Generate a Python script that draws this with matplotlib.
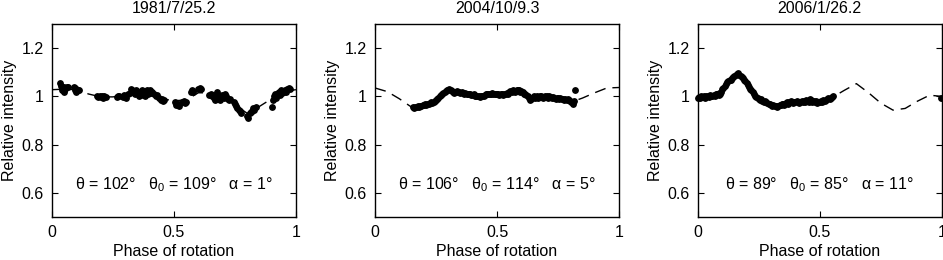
import matplotlib
matplotlib.use("Agg")
import matplotlib.pyplot as plt

plt.rcParams['font.family'] = ['Liberation Sans', 'DejaVu Sans']
plt.rcParams['mathtext.fontset'] = 'custom'
plt.rcParams['mathtext.rm'] = 'Liberation Sans'
plt.rcParams['mathtext.it'] = 'Liberation Sans'
plt.rcParams['font.size'] = 11.5

# ---------------- data ----------------
titles = ["1981/7/25.2", "2004/10/9.3", "2006/1/26.2"]
labels = ["θ = 102°   θ$_0$ = 109°   α = 1°",
          "θ = 106°   θ$_0$ = 114°   α = 5°",
          "θ = 89°   θ$_0$ = 85°   α = 11°"]

model_phase = [0.0, 0.05, 0.1, 0.15, 0.2, 0.25, 0.3, 0.35, 0.4, 0.45, 0.5,
               0.55, 0.6, 0.65, 0.7, 0.75, 0.8, 0.85, 0.9, 0.95, 1.0]
model1 = [1.028, 1.03, 1.028, 1.01, 0.998, 0.998, 1.005, 1.015, 1.01, 0.99, 0.982,
          0.985, 1.015, 1.015, 1.0, 0.965, 0.93, 0.958, 0.99, 1.02, 1.028]
model2 = [1.035, 1.02, 0.99, 0.955, 0.962, 0.985, 1.025, 1.018, 1.005, 1.005, 1.01,
          1.018, 1.02, 0.995, 0.998, 0.992, 0.975, 0.993, 1.015, 1.035, 1.037]
model3 = [0.997, 1.003, 1.03, 1.085, 1.055, 0.99, 0.965, 0.968, 0.975, 0.98, 0.978,
          0.995, 1.025, 1.053, 1.015, 0.972, 0.943, 0.95, 0.98, 1.005, 1.0]

obs1_phase = [0.035, 0.038, 0.042, 0.045, 0.05, 0.055, 0.06, 0.065, 0.048,
              0.09, 0.095, 0.1, 0.105, 0.11, 0.1, 0.095,
              0.185, 0.19, 0.195, 0.2, 0.205, 0.21, 0.215, 0.22,
              0.265, 0.27, 0.275, 0.29, 0.295, 0.3, 0.31, 0.305,
              0.32, 0.325, 0.33, 0.335, 0.34, 0.345, 0.35, 0.355, 0.36, 0.365,
              0.37, 0.375, 0.38, 0.385, 0.39, 0.395, 0.4, 0.405, 0.41,
              0.42, 0.425, 0.43, 0.44, 0.445, 0.45, 0.455, 0.46,
              0.505, 0.51, 0.515, 0.52, 0.535, 0.54, 0.545, 0.55,
              0.57, 0.575, 0.58, 0.6, 0.605, 0.61,
              0.645, 0.65, 0.655, 0.66, 0.665, 0.67, 0.675, 0.68, 0.685, 0.69,
              0.695, 0.7, 0.705, 0.71, 0.715, 0.72, 0.725, 0.73,
              0.745, 0.75, 0.755, 0.76, 0.765, 0.77, 0.775,
              0.8, 0.805, 0.81, 0.815, 0.82, 0.825, 0.83, 0.835,
              0.9, 0.905, 0.91, 0.915, 0.92, 0.925, 0.93, 0.935, 0.94, 0.945,
              0.95, 0.955, 0.96, 0.965, 0.97, 0.975]
obs1_val = [1.055, 1.045, 1.025, 1.035, 1.04, 1.03, 1.038, 1.04, 1.02,
            1.04, 1.035, 1.03, 1.028, 1.025, 1.02, 1.025,
            1.0, 0.998, 1.002, 0.997, 1.0, 0.995, 1.0, 0.998,
            0.998, 1.003, 1.0, 0.998, 1.005, 1.0, 1.01, 0.995,
            1.015, 1.03, 1.025, 1.02, 1.01, 1.028, 1.015, 1.0, 1.02, 1.005,
            1.025, 1.015, 1.0, 1.02, 1.028, 1.01, 1.025, 1.015, 1.02,
            1.01, 1.0, 1.005, 0.995, 0.985, 0.99, 0.98, 0.985,
            0.975, 0.965, 0.97, 0.96, 0.975, 0.98, 0.972, 0.975,
            1.02, 1.025, 1.02, 1.03, 1.035, 1.03,
            1.005, 1.01, 1.0, 1.005, 0.995, 0.985, 1.02, 1.0, 0.99, 0.985,
            1.005, 1.0, 0.995, 1.008, 1.0, 0.99, 0.985, 0.988,
            0.975, 0.97, 0.96, 0.95, 0.945, 0.94, 0.93,
            0.92, 0.91, 0.93, 0.935, 0.94, 0.95, 0.945, 0.955,
            0.955, 0.985, 1.0, 1.01, 0.995, 1.015, 1.02, 1.005, 1.025, 1.015,
            1.02, 1.025, 1.02, 1.03, 1.035, 1.03]

obs2_phase = [0.155, 0.16, 0.165, 0.17, 0.175, 0.18, 0.185, 0.19, 0.195, 0.2,
              0.205, 0.21, 0.215, 0.22, 0.225, 0.23, 0.235, 0.24, 0.245, 0.25,
              0.255, 0.26, 0.265, 0.27, 0.275, 0.28, 0.285, 0.29, 0.295, 0.3,
              0.305, 0.31, 0.315, 0.32, 0.325, 0.33, 0.335, 0.34, 0.345, 0.35,
              0.355, 0.36, 0.365, 0.37, 0.375, 0.38, 0.385, 0.39, 0.395, 0.4,
              0.405, 0.41, 0.415, 0.42, 0.425, 0.43, 0.435, 0.44, 0.445, 0.45,
              0.455, 0.46, 0.465, 0.47, 0.475, 0.48, 0.485, 0.49, 0.495, 0.5,
              0.505, 0.51, 0.515, 0.52, 0.525, 0.53, 0.535, 0.54, 0.545, 0.55,
              0.555, 0.56, 0.565, 0.57, 0.575, 0.58, 0.585, 0.59, 0.595, 0.6,
              0.605, 0.61, 0.615, 0.62, 0.625, 0.63, 0.635, 0.64, 0.645, 0.65,
              0.655, 0.66, 0.665, 0.67, 0.675, 0.68, 0.685, 0.69, 0.695, 0.7,
              0.705, 0.71, 0.715, 0.72, 0.725, 0.73, 0.735, 0.74, 0.745, 0.75,
              0.755, 0.76, 0.765, 0.77, 0.775, 0.78, 0.785, 0.79, 0.795, 0.8,
              0.805, 0.81, 0.815, 0.818]
obs2_val = [0.955, 0.952, 0.958, 0.955, 0.96, 0.958, 0.962, 0.96, 0.965, 0.963,
            0.968, 0.966, 0.97, 0.968, 0.972, 0.975, 0.973, 0.978, 0.982, 0.985,
            0.99, 0.995, 1.0, 1.005, 1.01, 1.015, 1.02, 1.022, 1.025, 1.028,
            1.03, 1.027, 1.022, 1.02, 1.015, 1.018, 1.022, 1.02, 1.018, 1.016,
            1.02, 1.015, 1.012, 1.015, 1.01, 1.012, 1.008, 1.01, 1.005, 1.005,
            1.008, 1.003, 1.0, 1.002, 1.0, 0.998, 1.0, 1.003, 1.0, 1.005,
            1.008, 1.01, 1.008, 1.012, 1.01, 1.015, 1.012, 1.01, 1.008, 1.012,
            1.01, 1.005, 1.008, 1.01, 1.006, 1.01, 1.012, 1.015, 1.012, 1.018,
            1.022, 1.02, 1.025, 1.022, 1.02, 1.025, 1.028, 1.025, 1.02, 1.022,
            1.018, 1.012, 1.01, 1.005, 1.0, 0.992, 0.985, 0.99, 0.995, 1.0,
            0.995, 0.998, 1.0, 0.995, 1.0, 1.002, 0.998, 0.995, 1.0, 0.998,
            1.0, 0.995, 1.0, 0.997, 0.993, 0.998, 0.995, 0.99, 0.995, 0.992,
            0.99, 0.995, 0.99, 0.988, 0.985, 0.99, 0.985, 0.988, 0.983, 0.98,
            0.975, 0.97, 0.98, 1.025]

obs3_phase = [0.0, 0.005, 0.01, 0.015, 0.02, 0.025, 0.03, 0.035, 0.04, 0.045,
              0.05, 0.055, 0.06, 0.065, 0.07, 0.075, 0.08, 0.085, 0.09, 0.095,
              0.1, 0.105, 0.11, 0.115, 0.12, 0.125, 0.13, 0.135, 0.14, 0.145,
              0.15, 0.155, 0.16, 0.165, 0.17, 0.175, 0.18, 0.185, 0.19, 0.195,
              0.2, 0.205, 0.21, 0.215, 0.22, 0.225, 0.23, 0.235, 0.24, 0.245,
              0.25, 0.255, 0.26, 0.265, 0.27, 0.275, 0.28, 0.285, 0.29, 0.295,
              0.3, 0.305, 0.31, 0.315, 0.32, 0.325, 0.33, 0.335, 0.34, 0.345,
              0.35, 0.355, 0.36, 0.365, 0.37, 0.375, 0.38, 0.385, 0.39, 0.395,
              0.4, 0.405, 0.41, 0.415, 0.42, 0.425, 0.43, 0.435, 0.44, 0.445,
              0.45, 0.455, 0.46, 0.465, 0.47, 0.475, 0.48, 0.485, 0.49, 0.495,
              0.5, 0.505, 0.51, 0.515, 0.52, 0.525, 0.53, 0.535, 0.54, 0.545,
              0.55, 0.555, 0.995]
obs3_val = [0.995, 0.998, 0.993, 1.0, 0.997, 1.0, 0.995, 1.002, 1.0, 0.998,
            1.004, 1.002, 1.0, 1.006, 1.003, 1.008, 1.01, 1.005, 1.012, 1.02,
            1.03, 1.035, 1.045, 1.05, 1.058, 1.062, 1.068, 1.07, 1.075, 1.08,
            1.085, 1.088, 1.092, 1.097, 1.09, 1.085, 1.08, 1.075, 1.068, 1.062,
            1.055, 1.048, 1.04, 1.032, 1.025, 1.018, 1.01, 1.003, 0.998, 0.993,
            0.99, 0.985, 0.988, 0.982, 0.978, 0.98, 0.975, 0.972, 0.97, 0.968,
            0.965, 0.962, 0.965, 0.96, 0.962, 0.958, 0.962, 0.965, 0.963, 0.968,
            0.97, 0.966, 0.972, 0.975, 0.97, 0.975, 0.98, 0.976, 0.972, 0.978,
            0.975, 0.98, 0.976, 0.972, 0.978, 0.98, 0.975, 0.982, 0.978, 0.985,
            0.98, 0.978, 0.99, 0.985, 0.978, 0.982, 0.975, 0.98, 0.972, 0.978,
            0.975, 0.98, 0.978, 0.983, 0.98, 0.985, 0.988, 0.992, 0.99, 0.995,
            0.998, 1.002, 0.995]

models = [model1, model2, model3]
obs_phase = [obs1_phase, obs2_phase, obs3_phase]
obs_val = [obs1_val, obs2_val, obs3_val]

# ---------------- figure ----------------
fig = plt.figure(figsize=(9.43, 2.6), dpi=100)
lefts = [0.0551, 0.3977, 0.740]
for i in range(3):
    ax = fig.add_axes([lefts[i], 0.1667, 0.2587, 0.740])
    ax.plot(model_phase, models[i], color='black', lw=1.0,
            linestyle=(0, (8, 5)), zorder=2)
    ax.plot(obs_phase[i], obs_val[i], 'o', color='black', ms=3.9,
            mec='black', zorder=3, clip_on=False)
    ax.set_xlim(0, 1)
    ax.set_ylim(0.5, 1.3)
    ax.set_xticks([0, 0.5, 1])
    ax.set_xticklabels(['0', '0.5', '1'])
    ax.set_yticks([0.6, 0.8, 1.0, 1.2])
    ax.set_yticklabels(['0.6', '0.8', '1', '1.2'])
    ax.tick_params(direction='in', top=True, right=True, length=4,
                   width=0.8, labelsize=11.5, pad=6)
    for s in ax.spines.values():
        s.set_linewidth(1.0)
    ax.set_title(titles[i], fontsize=11.5, pad=8)
    ax.set_xlabel('Phase of rotation', fontsize=11.5, labelpad=3)
    ax.set_ylabel('Relative intensity', fontsize=11.5, labelpad=3)
    ax.text(0.5, 0.635, labels[i], ha='center', va='center', fontsize=11.5)

fig.savefig('out.png', dpi=100)
